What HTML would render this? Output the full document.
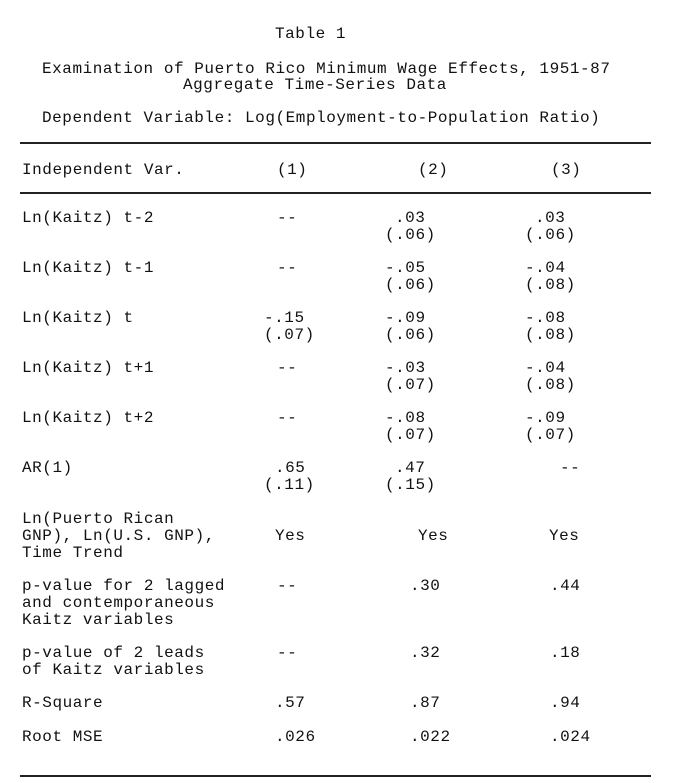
<!DOCTYPE html>
<html><head><meta charset="utf-8"><style>
body{margin:0;background:#fff;}
#t{position:relative;width:684px;height:783px;background:#fff;font-family:"Liberation Mono",monospace;font-size:16px;letter-spacing:0.55px;color:#111;}
#t span{position:absolute;white-space:pre;line-height:17px;}
.rule{position:absolute;left:20px;width:631px;height:2px;background:#222;}
</style></head><body>
<div id="t">
<span style="left:275px;top:26px">Table 1</span>
<span style="left:42px;top:61px">Examination of Puerto Rico Minimum Wage Effects, 1951-87</span>
<span style="left:183px;top:77px">Aggregate Time-Series Data</span>
<span style="left:42px;top:110px">Dependent Variable: Log(Employment-to-Population Ratio)</span>
<div class="rule" style="top:142px"></div>
<span style="left:22px;top:162px">Independent Var.</span>
<span style="left:277px;top:162px">(1)</span>
<span style="left:418px;top:162px">(2)</span>
<span style="left:551px;top:162px">(3)</span>
<div class="rule" style="top:192px"></div>
<div id="rows"></div>
<div class="rule" style="top:775px"></div>
</div>
<script>
const cells=[
["Ln(Kaitz) t-2",22,218],["--",277,218],[".03",395,218],["(.06)",385,235],[".03",535,218],["(.06)",525,235],
["Ln(Kaitz) t-1",22,268],["--",277,268],["-.05",385,268],["(.06)",385,285],["-.04",525,268],["(.08)",525,285],
["Ln(Kaitz) t",22,318],["-.15",264,318],["(.07)",264,335],["-.09",385,318],["(.06)",385,335],["-.08",525,318],["(.08)",525,335],
["Ln(Kaitz) t+1",22,368],["--",277,368],["-.03",385,368],["(.07)",385,385],["-.04",525,368],["(.08)",525,385],
["Ln(Kaitz) t+2",22,418],["--",277,418],["-.08",385,418],["(.07)",385,435],["-.09",525,418],["(.07)",525,435],
["AR(1)",22,468],[".65",275,468],["(.11)",264,485],[".47",395,468],["(.15)",385,485],["--",560,468],
["Ln(Puerto Rican",22,519],["GNP), Ln(U.S. GNP),",22,536],["Time Trend",22,553],["Yes",275,536],["Yes",418,536],["Yes",549,536],
["p-value for 2 lagged",22,586],["and contemporaneous",22,603],["Kaitz variables",22,620],["--",277,586],[".30",410,586],[".44",550,586],
["p-value of 2 leads",22,653],["of Kaitz variables",22,670],["--",277,653],[".32",410,653],[".18",550,653],
["R-Square",22,703],[".57",275,703],[".87",410,703],[".94",550,703],
["Root MSE",22,737],[".026",275,737],[".022",410,737],[".024",550,737]
];
const rows=document.getElementById('rows');
cells.forEach(c=>{
  const s=document.createElement('span');
  s.textContent=c[0];
  s.style.left=c[1]+'px';
  s.style.top=(c[2]-8)+'px';
  
  
  rows.appendChild(s);
});
</script>
</body></html>
